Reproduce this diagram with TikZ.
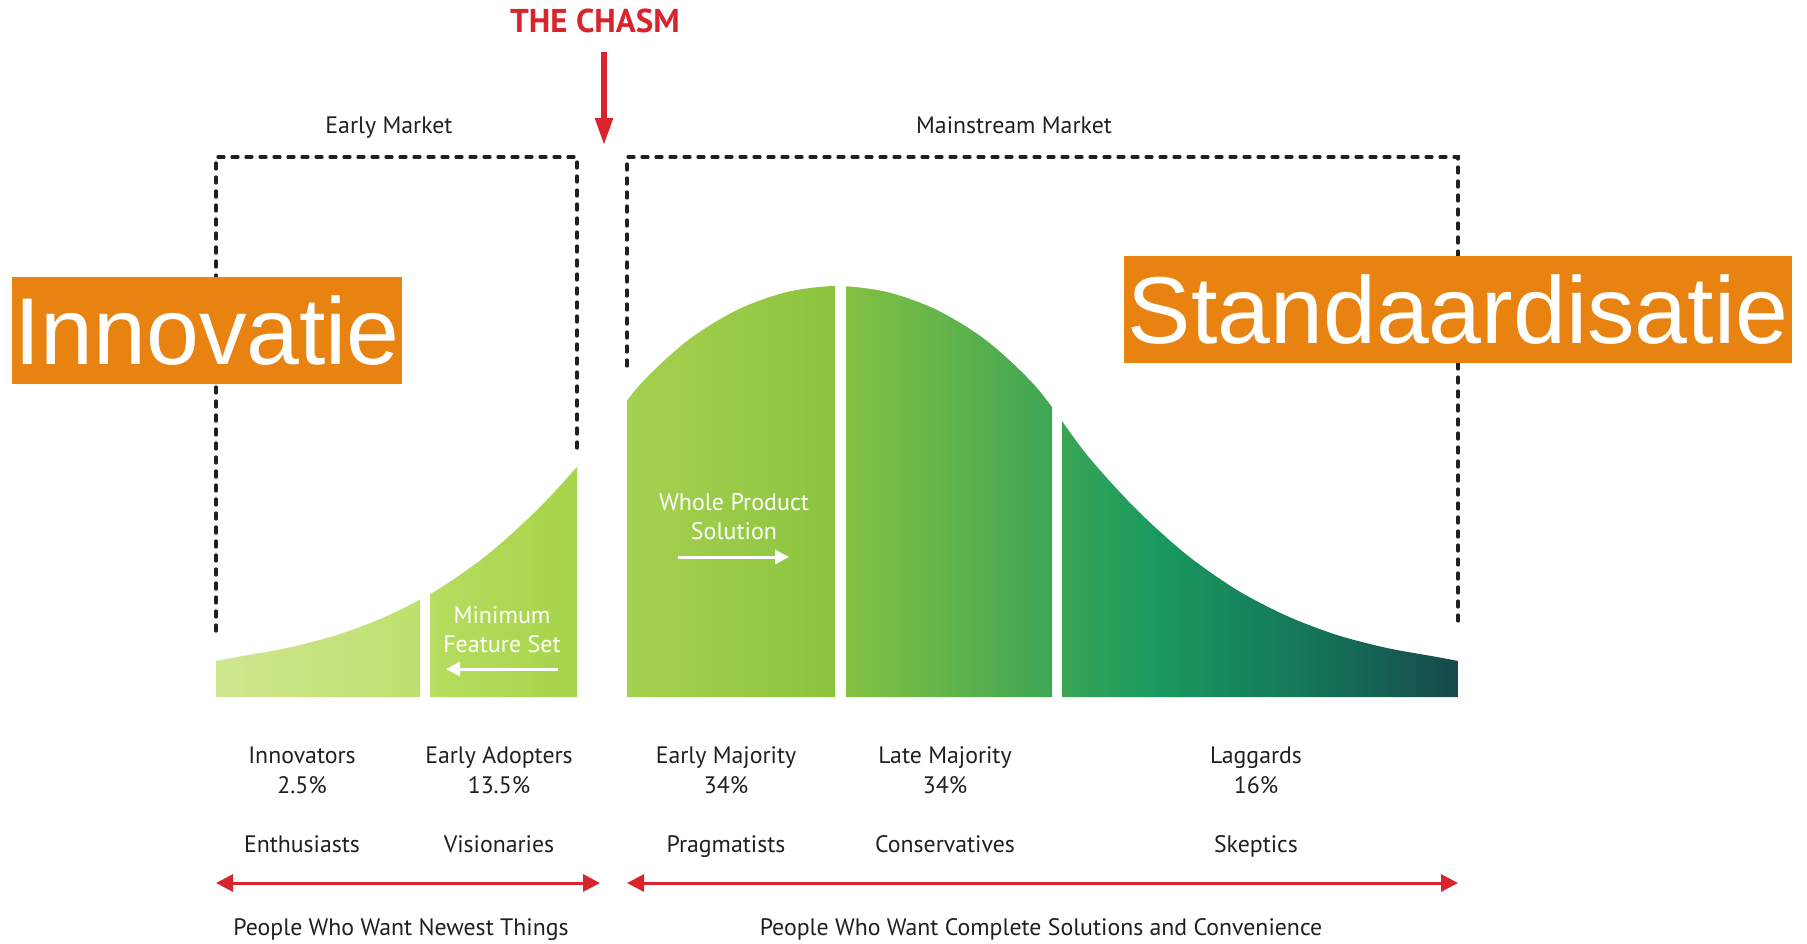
\documentclass[tikz,border=0pt]{standalone}
\usepackage{fontspec}
\setmainfont{PT Sans}
\newfontfamily\tagfont{Liberation Sans}
\usetikzlibrary{arrows.meta}
\definecolor{chasmred}{RGB}{217,35,45}
\definecolor{tagorange}{RGB}{232,131,18}
\definecolor{ink}{RGB}{35,31,32}
\definecolor{g0}{RGB}{207,230,143}
\definecolor{g1}{RGB}{190,224,110}
\definecolor{g2}{RGB}{182,220,94}
\definecolor{g3}{RGB}{166,212,74}
\definecolor{g4}{RGB}{166,209,80}
\definecolor{g5}{RGB}{139,196,63}
\definecolor{g6}{RGB}{132,193,66}
\definecolor{g7}{RGB}{62,166,84}
\definecolor{g8}{RGB}{26,155,95}
\definecolor{g9}{RGB}{21,120,90}
\definecolor{g10}{RGB}{22,74,75}
\pgfdeclarehorizontalshading{bell}{100bp}{color(0bp)=(g0); color(25bp)=(g0); color(33.2bp)=(g1);
 color(34bp)=(g2); color(39.5bp)=(g3); color(41.5bp)=(g4); color(49.9bp)=(g5); color(50.3bp)=(g6);
 color(58.6bp)=(g7); color(62.6bp)=(g8); color(68.6bp)=(g9); color(75bp)=(g10); color(100bp)=(g10)}
\def\bellpath{(216,697)--plot[smooth]coordinates{(216,661)(237,657)(287,648)(337,635)(387,616)(437,590)(487,555)
 (537,510)(587,455)(637,388)(687,341)(737,310)(787,292)(837,286)(887,292)(937,310)(987,341)(1037,388)
 (1087,455)(1137,510)(1187,555)(1237,590)(1287,616)(1337,635)(1387,648)(1437,657)(1458,661)}--(1458,697)--cycle}
\begin{document}
\begin{tikzpicture}[x=1pt,y=-1pt,
	lbl/.style={font=\fontsize{23.8}{29}\selectfont,text=ink,anchor=base,inner sep=0pt},
	wlbl/.style={font=\fontsize{24}{29}\selectfont,text=white,align=center,inner sep=0pt},
	tag/.style={fill=tagorange,text=white,font=\tagfont\fontsize{95}{100}\selectfont,inner sep=0pt,minimum height=107pt},
	bracket/.style={ink,line width=3.2pt,dash pattern=on 6pt off 8pt,line cap=round},
	redarr/.style={chasmred,line width=3pt,>={Triangle[width=17pt,length=17pt]},<->},
	warr/.style={white,line width=3pt,>={Triangle[width=14pt,length=14pt]},->}]
\path[fill=white,use as bounding box](0,0)rectangle(1807,943);
\foreach\l/\r in{216/420,430/577,627/835,846/1052,1062/1458}{
\begin{scope}
\clip(\l,200)rectangle(\r,700);
\shade[shading=bell]\bellpath;
\end{scope}}
\node[wlbl](minfs)at(502,629.5){Minimum\\Feature Set};
\node[wlbl](wholeps)at(734,516.5){Whole Product\\Solution};
\coordinate(minfsa)at(558,669);\coordinate(minfsb)at(446,669);
\coordinate(wholepsa)at(678,557);\coordinate(wholepsb)at(789,557);
\draw[warr](minfsa)--(minfsb);
\draw[warr](wholepsa)--(wholepsb);
\draw[bracket]
	(216,631)|-(577,157)--(577,449)
	(627,366)|-(1458,157)--(1458,622);
\node[tag,minimum width=390pt](innov)at(207,330.5){Innovatie};
\node[tag,minimum width=668pt](stand)at(1458,309.5){Standaardisatie};
\node[lbl](early)at(389,133){Early Market};
\node[lbl](mainstr)at(1014,133){Mainstream Market};
\node[lbl,text=chasmred,font=\bfseries\fontsize{33}{36}\selectfont](chasm)at(595,32){THE CHASM};
\coordinate(chasmtop)at(604,52);\coordinate(chasmtip)at(604,145);
\draw[chasmred,line width=5.5pt,-{Triangle[width=17pt,length=27pt]}](chasmtop)--(chasmtip);
\foreach\n/\x/\g/\p/\t in{inno/302/Innovators/2.5/Enthusiasts,adop/499/Early Adopters/13.5/Visionaries,
	emaj/726/Early Majority/34/Pragmatists,lmaj/945/Late Majority/34/Conservatives,lagg/1256/Laggards/16/Skeptics}{
\node[lbl](\n)at(\x,763){\g};
\node[lbl](\n pct)at(\x,793){\p\%};
\node[lbl](\n type)at(\x,852){\t};}
\coordinate(lefta)at(216,883);\coordinate(leftb)at(600,883);
\coordinate(righta)at(627,883);\coordinate(rightb)at(1458,883);
\draw[redarr](lefta)--(leftb);
\draw[redarr](righta)--(rightb);
\node[lbl](newest)at(401,935){People Who Want Newest Things};
\node[lbl](complete)at(1041,935){People Who Want Complete Solutions and Convenience};
\end{tikzpicture}
\end{document}
